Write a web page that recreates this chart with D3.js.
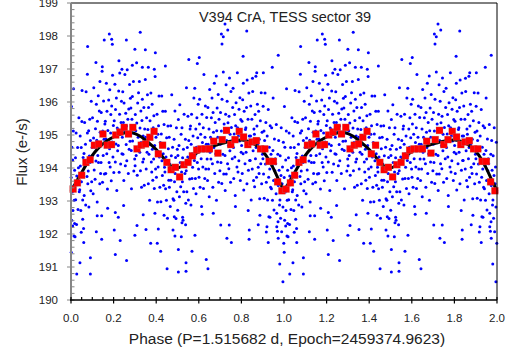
<!DOCTYPE html>
<html>
<head>
<meta charset="utf-8">
<script src="https://cdn.jsdelivr.net/npm/d3@7"></script>
<style>
  body { margin: 0; background: #fff; }
  text { font-family: "Liberation Sans", Arial, sans-serif; fill: #222; }
</style>
</head>
<body>
<script>
// phase-folded observations (phase 0-1, drawn again at phase+1)
var obs = [
[0.001,193.71],[0.003,192.42],[0.004,194.63],[0.006,193.27],[0.008,194.24],[0.009,192.71],[0.011,195.12],[0.013,193.46],[0.015,193.02],[0.017,193.93],[0.019,191.92],
[0.001,191.45],[0.008,192.24],[0.014,191.94],[0.017,192.32],[0.002,195.86],[0.012,196.40],
[0.021,194.31],[0.022,193.04],[0.024,195.06],[0.026,192.29],[0.027,193.76],[0.029,193.49],[0.031,194.62],[0.033,192.74],[0.035,194.01],[0.037,195.52],[0.039,193.28],[0.027,190.79],
[0.041,193.34],[0.043,194.97],[0.044,194.06],[0.046,192.71],[0.048,194.62],[0.049,193.58],[0.051,195.41],[0.053,193.86],[0.055,193.03],[0.057,194.32],[0.059,192.17],
[0.042,191.13],[0.048,192.05],[0.055,192.45],[0.052,196.35],
[0.061,194.44],[0.062,193.17],[0.064,195.38],[0.066,194.07],[0.068,194.72],[0.069,192.88],[0.071,196.31],[0.073,194.21],[0.075,193.74],[0.077,195.06],[0.079,193.52],
[0.060,191.74],[0.077,196.84],[0.078,197.68],
[0.081,193.91],[0.083,195.13],[0.084,192.82],[0.086,194.36],[0.088,195.48],[0.089,194.17],[0.091,194.83],[0.093,193.31],[0.095,196.02],[0.097,193.58],[0.099,194.62],
[0.091,190.79],[0.091,191.28],
[0.101,195.52],[0.102,194.38],[0.104,193.22],[0.106,194.91],[0.107,196.43],[0.109,193.94],[0.111,194.63],[0.113,193.66],[0.115,195.19],[0.117,194.21],[0.119,195.93],
[0.117,197.20],[0.119,192.07],
[0.121,194.84],[0.123,192.97],[0.124,195.42],[0.126,194.38],[0.128,196.19],[0.129,194.17],[0.131,194.66],[0.133,195.73],[0.135,193.52],[0.137,195.08],[0.139,193.83],
[0.123,192.55],[0.136,196.62],
[0.141,194.17],[0.142,195.68],[0.144,194.72],[0.146,196.93],[0.148,193.57],[0.149,195.12],[0.151,194.38],[0.153,196.03],[0.155,194.87],[0.157,193.82],[0.159,195.33],
[0.144,191.84],[0.144,192.55],[0.147,197.07],[0.156,197.88],
[0.161,195.42],[0.163,193.83],[0.164,194.88],[0.166,196.57],[0.168,194.43],[0.169,195.72],[0.171,193.36],[0.173,195.14],[0.175,194.69],[0.177,196.06],[0.179,194.17],
[0.172,192.78],
[0.181,194.58],[0.182,196.37],[0.184,194.03],[0.186,195.06],[0.187,195.62],[0.189,193.61],[0.191,195.88],[0.193,194.79],[0.195,196.81],[0.197,194.33],[0.199,195.29],
[0.180,198.06],[0.191,197.90],[0.194,197.75],
[0.201,193.86],[0.203,195.43],[0.204,195.02],[0.206,196.54],[0.208,194.18],[0.209,195.77],[0.211,194.73],[0.213,196.12],[0.215,193.32],[0.217,195.21],[0.219,194.52],
[0.203,192.12],[0.208,191.38],[0.208,192.65],
[0.221,195.17],[0.222,194.68],[0.224,196.33],[0.226,193.87],[0.228,195.63],[0.229,196.88],[0.231,195.02],[0.233,194.12],[0.235,195.38],[0.237,196.02],[0.239,194.43],
[0.225,197.25],[0.239,196.99],[0.222,192.51],[0.231,191.80],
[0.241,194.93],[0.243,196.31],[0.244,194.42],[0.246,195.38],[0.248,193.62],[0.249,195.97],[0.251,195.14],[0.253,196.83],[0.255,194.07],[0.257,195.66],[0.259,194.71],
[0.247,192.86],
[0.261,195.27],[0.262,194.22],[0.264,196.98],[0.266,195.02],[0.267,195.48],[0.269,193.83],[0.271,195.79],[0.273,194.57],[0.275,196.53],[0.277,194.81],[0.279,196.11],
[0.260,197.88],[0.261,191.20],
[0.281,195.82],[0.283,194.53],[0.284,193.37],[0.286,195.48],[0.288,196.17],[0.289,194.82],[0.291,195.06],[0.293,196.62],[0.295,193.91],[0.297,195.23],[0.299,194.27],
[0.288,197.11],
[0.301,194.07],[0.302,195.62],[0.304,195.13],[0.306,194.38],[0.308,197.19],[0.309,195.36],[0.311,193.78],[0.313,195.97],[0.315,194.93],[0.317,196.28],[0.319,194.66],
[0.300,197.60],[0.300,191.96],[0.310,192.26],
[0.321,196.62],[0.323,194.48],[0.324,195.21],[0.326,193.92],[0.328,195.73],[0.329,194.77],[0.331,193.42],[0.333,195.44],[0.335,196.08],[0.337,194.18],[0.339,194.97],
[0.325,198.11],[0.335,197.05],[0.339,192.58],
[0.341,194.27],[0.342,195.83],[0.344,193.48],[0.346,195.18],[0.347,194.72],[0.349,196.68],[0.351,194.93],[0.353,193.97],[0.355,195.52],[0.357,194.48],[0.359,196.22],
[0.349,197.58],[0.352,192.14],
[0.361,195.17],[0.363,193.52],[0.364,195.83],[0.366,194.42],[0.368,194.71],[0.369,193.02],[0.371,195.43],[0.373,194.92],[0.375,196.27],[0.377,194.18],[0.379,193.88],
[0.363,197.05],[0.374,191.72],
[0.381,195.93],[0.382,194.57],[0.384,193.63],[0.386,195.22],[0.388,194.27],[0.389,195.58],[0.391,193.38],[0.393,194.68],[0.395,196.77],[0.397,193.97],[0.399,194.93],
[0.391,196.99],[0.396,197.49],[0.394,192.63],
[0.401,193.72],[0.403,194.52],[0.404,195.63],[0.406,192.97],[0.408,195.02],[0.409,194.03],[0.411,195.28],[0.413,196.18],[0.415,194.33],[0.417,193.42],[0.419,194.77],
[0.405,191.72],[0.410,192.15],
[0.421,194.72],[0.422,192.98],[0.424,195.03],[0.426,196.18],[0.427,194.22],[0.429,193.77],[0.431,195.72],[0.433,194.43],[0.435,193.48],[0.437,195.32],[0.439,194.02],
[0.421,191.48],[0.437,192.57],
[0.441,193.88],[0.443,195.72],[0.444,193.37],[0.446,194.33],[0.448,193.02],[0.449,194.92],[0.451,194.17],[0.453,192.48],[0.455,195.27],[0.457,194.58],[0.459,193.63],
[0.443,197.09],[0.451,190.95],
[0.461,194.93],[0.462,193.42],[0.464,194.12],[0.466,192.83],[0.468,195.28],[0.469,193.63],[0.471,194.37],[0.473,196.22],[0.475,193.98],[0.477,194.63],[0.479,193.07],
[0.479,192.12],
[0.481,194.03],[0.483,193.02],[0.484,194.87],[0.486,193.58],[0.488,195.73],[0.489,193.83],[0.491,194.32],[0.493,192.47],[0.495,195.22],[0.497,193.28],[0.499,194.57],
[0.485,192.52],[0.488,191.94],
[0.501,192.72],[0.502,194.38],[0.504,195.47],[0.506,193.72],[0.507,194.68],[0.509,193.13],[0.511,195.92],[0.513,194.17],[0.515,193.43],[0.517,195.02],[0.519,193.88],
[0.504,190.85],[0.504,191.53],[0.518,191.92],
[0.521,195.22],[0.523,193.58],[0.524,194.31],[0.526,192.42],[0.528,194.57],[0.529,193.28],[0.531,195.63],[0.533,194.12],[0.535,193.83],[0.537,194.87],[0.539,192.93],
[0.521,192.34],[0.524,192.51],[0.538,192.28],
[0.541,193.92],[0.542,196.43],[0.544,193.28],[0.546,194.62],[0.548,194.33],[0.549,195.57],[0.551,193.03],[0.553,194.83],[0.555,194.22],[0.557,193.67],[0.559,195.18],
[0.540,190.87],[0.540,191.13],[0.553,197.29],
[0.561,195.27],[0.563,192.88],[0.564,194.72],[0.566,195.63],[0.568,193.68],[0.569,194.43],[0.571,194.02],[0.573,194.97],[0.575,193.38],[0.577,196.12],[0.579,194.23],
[0.568,191.48],
[0.581,196.42],[0.582,194.37],[0.584,193.68],[0.586,195.18],[0.587,193.22],[0.589,194.63],[0.591,195.52],[0.593,194.17],[0.595,194.92],[0.597,195.93],[0.599,193.97],
[0.582,191.96],[0.593,197.17],
[0.601,193.72],[0.603,195.33],[0.604,196.08],[0.606,193.42],[0.608,194.57],[0.609,195.02],[0.611,194.28],[0.613,192.83],[0.615,195.63],[0.617,194.77],[0.619,194.03],
[0.602,197.35],[0.616,192.60],
[0.621,195.22],[0.622,193.38],[0.624,196.83],[0.626,194.52],[0.628,193.68],[0.629,194.93],[0.631,195.88],[0.633,193.97],[0.635,194.72],[0.637,195.53],[0.639,194.27],
[0.635,191.23],
[0.641,193.62],[0.643,195.83],[0.644,194.72],[0.646,193.97],[0.648,195.18],[0.649,193.13],[0.651,196.38],[0.653,194.48],[0.655,194.93],[0.657,194.27],[0.659,195.52],
[0.643,190.95],
[0.661,194.87],[0.662,196.12],[0.664,194.13],[0.666,193.42],[0.667,195.68],[0.669,195.08],[0.671,194.62],[0.673,196.57],[0.675,193.83],[0.677,195.38],[0.679,194.43],
[0.668,192.63],
[0.681,194.72],[0.683,193.02],[0.684,195.13],[0.686,195.82],[0.688,194.18],[0.689,194.93],[0.691,196.23],[0.693,193.57],[0.695,195.48],[0.697,194.43],[0.699,193.92],
[0.682,196.79],
[0.701,194.72],[0.702,195.68],[0.704,194.17],[0.706,195.12],[0.708,193.53],[0.709,196.08],[0.711,194.83],[0.713,194.42],[0.715,196.91],[0.717,193.82],[0.719,195.33],
[0.706,198.06],[0.709,197.76],[0.715,197.98],[0.703,192.27],
[0.721,195.12],[0.723,194.38],[0.724,193.32],[0.726,195.63],[0.728,196.52],[0.729,193.82],[0.731,194.83],[0.733,196.02],[0.735,194.13],[0.737,195.37],[0.739,194.68],
[0.723,198.36],[0.736,198.18],[0.732,191.87],
[0.741,193.98],[0.742,195.57],[0.744,196.73],[0.746,194.52],[0.747,195.02],[0.749,193.57],[0.751,196.32],[0.753,195.23],[0.755,194.77],[0.757,194.28],[0.759,195.83],
[0.743,192.27],[0.753,191.74],
[0.761,196.42],[0.763,194.62],[0.764,193.68],[0.766,195.03],[0.768,195.62],[0.769,194.33],[0.771,193.17],[0.773,195.28],[0.775,195.98],[0.777,194.87],[0.779,194.03],
[0.772,192.83],
[0.781,196.89],[0.782,195.22],[0.784,193.88],[0.786,194.97],[0.788,194.22],[0.789,195.78],[0.791,194.82],[0.793,196.13],[0.795,193.62],[0.797,195.47],[0.799,194.48],
[0.801,194.68],[0.803,195.42],[0.804,193.83],[0.806,196.07],[0.808,194.43],[0.809,196.57],[0.811,193.33],[0.813,195.72],[0.815,194.92],[0.817,194.13],[0.819,195.17],
[0.808,197.39],
[0.821,195.22],[0.822,194.48],[0.824,195.83],[0.826,193.52],[0.827,196.67],[0.829,194.72],[0.831,195.48],[0.833,193.93],[0.835,196.27],[0.837,194.97],[0.839,194.23],
[0.825,198.15],[0.832,192.71],[0.836,191.84],[0.837,192.12],
[0.841,194.23],[0.843,194.97],[0.844,195.88],[0.846,193.03],[0.848,194.77],[0.849,195.48],[0.851,193.97],[0.853,196.32],[0.855,194.52],[0.857,193.62],[0.859,195.18],
[0.852,196.72],
[0.861,195.02],[0.862,193.43],[0.864,195.62],[0.866,194.28],[0.868,196.78],[0.869,194.62],[0.871,193.72],[0.873,195.27],[0.875,195.93],[0.877,194.73],[0.879,194.02],
[0.872,196.89],[0.879,192.28],
[0.881,195.72],[0.883,193.83],[0.884,194.87],[0.886,193.07],[0.888,194.62],[0.889,195.43],[0.891,194.13],[0.893,196.28],[0.895,193.52],[0.897,195.08],[0.899,194.42],
[0.887,192.57],
[0.901,194.28],[0.902,195.87],[0.904,193.82],[0.906,195.12],[0.907,193.08],[0.909,194.83],[0.911,196.27],[0.913,194.12],[0.915,195.38],[0.917,193.57],[0.919,194.53],
[0.903,196.89],[0.917,192.06],
[0.921,194.97],[0.923,193.03],[0.924,194.18],[0.926,195.77],[0.928,193.72],[0.929,192.52],[0.931,194.63],[0.933,193.97],[0.935,195.28],[0.937,193.42],[0.939,194.42],
[0.920,192.22],[0.926,191.74],[0.934,192.51],
[0.941,193.37],[0.942,195.22],[0.944,194.07],[0.946,193.02],[0.948,194.53],[0.949,196.12],[0.951,193.62],[0.953,192.73],[0.955,194.88],[0.957,193.92],[0.959,194.28],
[0.945,197.05],
[0.961,194.13],[0.963,193.22],[0.964,195.32],[0.966,192.63],[0.968,193.67],[0.969,192.08],[0.971,194.42],[0.973,193.47],[0.975,194.83],[0.977,193.93],[0.979,192.88],
[0.966,192.22],[0.972,192.37],[0.973,191.87],[0.973,197.42],
[0.981,193.03],[0.982,194.37],[0.984,192.48],[0.986,193.77],[0.987,195.22],[0.989,192.07],[0.991,193.52],[0.993,194.03],[0.995,192.82],[0.997,194.78],[0.999,193.27],
[0.980,191.09],[0.995,190.55],[0.999,191.72]
];

// binned means (0.02 phase bins)
var binPhase = [0.01,0.03,0.05,0.07,0.09,0.11,0.13,0.15,0.17,0.19,0.21,0.23,0.25,0.27,0.29,0.31,0.33,0.35,0.37,0.39,
  0.41,0.43,0.45,0.47,0.49,0.51,0.53,0.55,0.57,0.59,0.61,0.63,0.65,0.67,0.69,0.71,0.73,0.75,0.77,0.79,
  0.81,0.83,0.85,0.87,0.89,0.91,0.93,0.95,0.97,0.99];
var binFlux = [193.36,193.55,193.78,194.17,194.25,194.69,194.73,195.03,194.69,194.71,195.00,195.09,195.23,195.03,195.23,194.58,194.69,194.73,194.93,195.11,
  194.43,194.69,194.17,193.95,194.02,193.73,194.10,194.17,194.37,194.54,194.58,194.58,194.58,194.81,194.45,194.86,195.14,194.71,194.86,195.11,
  194.94,194.71,194.79,194.83,194.58,194.58,194.20,194.20,193.58,193.31];

// smooth fit
var fitPhase = [0,0.025,0.05,0.075,0.1,0.125,0.15,0.175,0.2,0.225,0.25,0.275,0.3,0.325,0.35,0.375,0.4,0.425,0.45,0.475,
  0.5,0.525,0.55,0.575,0.6,0.625,0.65,0.675,0.7,0.725,0.75,0.775,0.8,0.825,0.85,0.875,0.9,0.925,0.95,0.975,1.0];
var fitFlux = [193.30,193.58,193.86,194.14,194.38,194.58,194.73,194.85,194.94,195.01,195.06,195.08,195.04,194.96,194.84,194.71,194.56,194.38,194.18,194.03,
  194.00,194.08,194.23,194.38,194.49,194.57,194.63,194.68,194.73,194.77,194.81,194.84,194.85,194.82,194.76,194.66,194.51,194.29,193.99,193.64,193.30];

var xTicks = [0,0.2,0.4,0.6,0.8,1.0,1.2,1.4,1.6,1.8,2.0];
var yTicks = [190,191,192,193,194,195,196,197,198,199];
var cycles = [0, 1];

var W = 513, H = 358;
var margin = {left: 71, right: 16, top: 3, bottom: 58};

var x = d3.scaleLinear().domain([0, 2]).range([margin.left, W - margin.right]);
var y = d3.scaleLinear().domain([190, 199]).range([H - margin.bottom, margin.top]);

var svg = d3.select("body").append("svg")
    .attr("width", W)
    .attr("height", H);

svg.append("rect").attr("width", W).attr("height", H).attr("fill", "#fff");

// observations
var pts = [];
cycles.forEach(function (c) {
    obs.forEach(function (d) { pts.push([d[0] + c, d[1]]); });
});
svg.append("g").selectAll("circle")
    .data(pts)
    .enter().append("circle")
    .attr("cx", function (d) { return x(d[0]); })
    .attr("cy", function (d) { return y(d[1]); })
    .attr("r", 1.5)
    .attr("fill", "#0000ff");

// fit line
var line = d3.line()
    .x(function (d) { return x(d[0]); })
    .y(function (d) { return y(d[1]); })
    .curve(d3.curveCatmullRom);
cycles.forEach(function (c) {
    svg.append("path")
        .datum(fitPhase.map(function (p, i) { return [p + c, fitFlux[i]]; }))
        .attr("d", line)
        .attr("fill", "none")
        .attr("stroke", "#000")
        .attr("stroke-width", 3);
});

// binned squares
var bins = [];
cycles.forEach(function (c) {
    binPhase.forEach(function (p, i) { bins.push([p + c, binFlux[i]]); });
});
svg.append("g").selectAll("rect")
    .data(bins)
    .enter().append("rect")
    .attr("x", function (d) { return x(d[0]) - 3.5; })
    .attr("y", function (d) { return y(d[1]) - 3.5; })
    .attr("width", 7)
    .attr("height", 7)
    .attr("fill", "#ff0000")
    .attr("stroke", "rgba(150,150,150,0.35)")
    .attr("stroke-width", 0.6);

// frame
var x0 = x(0), x1 = x(2), y0 = y(190), y1 = y(199);
svg.append("line").attr("x1", x0).attr("x2", x1).attr("y1", y1).attr("y2", y1).attr("stroke", "#000");
svg.append("line").attr("x1", x1).attr("x2", x1).attr("y1", y1).attr("y2", y0).attr("stroke", "#000");

// y axis (grey)
var yAxis = svg.append("g");
yAxis.append("line").attr("x1", x0).attr("x2", x0).attr("y1", y1).attr("y2", y0)
    .attr("stroke", "#868686").attr("stroke-width", 2);
d3.range(190, 199.01, 0.2).forEach(function (v) {
    var major = Math.abs(v - Math.round(v)) < 1e-6;
    yAxis.append("line")
        .attr("x1", major ? x0 - 4 : x0).attr("x2", x0 + 3.5)
        .attr("y1", y(v)).attr("y2", y(v))
        .attr("stroke", "#868686").attr("stroke-width", 1);
});
yAxis.selectAll("text").data(yTicks).enter().append("text")
    .attr("x", 58).attr("y", function (d) { return y(d); })
    .attr("dy", "0.35em").attr("text-anchor", "end")
    .style("font-size", "11.5px")
    .text(function (d) { return d; });

// x axis
var xAxis = svg.append("g");
xAxis.append("line").attr("x1", x0 - 1).attr("x2", x1).attr("y1", y0).attr("y2", y0)
    .attr("stroke", "#000").attr("stroke-width", 1.5);
d3.range(0, 2.001, 0.05).forEach(function (v) {
    var major = Math.abs(v * 5 - Math.round(v * 5)) < 1e-6;
    xAxis.append("line")
        .attr("x1", x(v)).attr("x2", x(v))
        .attr("y1", y0 - 3).attr("y2", major ? y0 + 3.5 : y0)
        .attr("stroke", "#000").attr("stroke-width", 1.2);
});
xAxis.selectAll("text").data(xTicks).enter().append("text")
    .attr("x", function (d) { return x(d); }).attr("y", 322)
    .attr("text-anchor", "middle")
    .style("font-size", "11.5px")
    .text(function (d) { return d.toFixed(1); });

// titles
svg.append("text").attr("x", 285).attr("y", 22).attr("text-anchor", "middle")
    .style("font-size", "14.5px").text("V394 CrA, TESS sector 39");
svg.append("text").attr("x", 287).attr("y", 344).attr("text-anchor", "middle")
    .style("font-size", "15.5px").text("Phase (P=1.515682 d, Epoch=2459374.9623)");
svg.append("text").attr("transform", "translate(27,152) rotate(-90)")
    .attr("text-anchor", "middle")
    .style("font-size", "15px").text("Flux (e-/s)");
</script>
